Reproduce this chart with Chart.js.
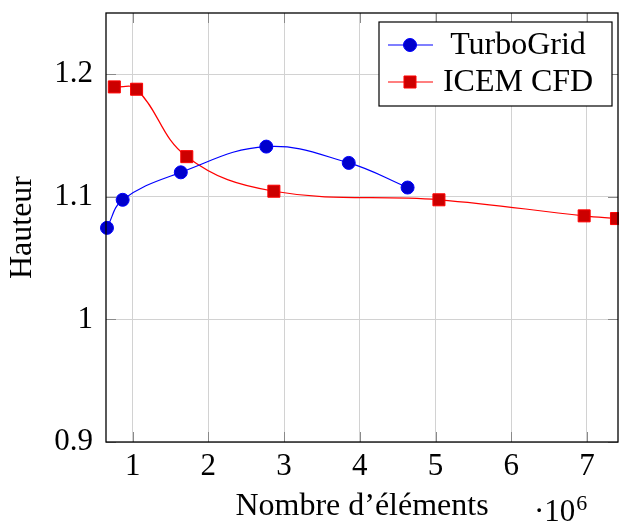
<!DOCTYPE html>
<html>
<head>
<meta charset="utf-8">
<script src="https://cdn.jsdelivr.net/npm/chart.js@4"></script>
<style>
  html, body { margin: 0; padding: 0; background: #fff; }
</style>
</head>
<body>
<canvas id="myChart" width="619" height="526"></canvas>
<script>
// values
const turboX = [661000, 868000, 1636000, 2765000, 3854000, 4631000];
const turboY = [1.0747, 1.0976, 1.1200, 1.1410, 1.1277, 1.1076];
const icemX = [758000, 1052000, 1715000, 2865000, 5045000, 6963000, 7390000];
const icemY = [1.1897, 1.1878, 1.1328, 1.1046, 1.0976, 1.0845, 1.0823];
const xTicks = [1, 2, 3, 4, 5, 6, 7];
const yTicks = [0.9, 1, 1.1, 1.2];

const serif = 'Liberation Serif';

const toPoints = (xs, ys) => xs.map((x, i) => ({ x: x, y: ys[i] }));

// frame, inner tick marks, legend box and the 10^6 factor
const pgfStyle = {
    id: 'pgfStyle',
    afterDatasetsDraw(chart) {
        const ctx = chart.ctx;
        const a = chart.chartArea;
        const xs = chart.scales.x, ys = chart.scales.y;
        ctx.save();

        ctx.strokeStyle = '#8a8a8a';
        ctx.lineWidth = 1;
        ctx.beginPath();
        xTicks.forEach(t => {
            const px = Math.round(xs.getPixelForValue(t * 1e6)) + 0.5;
            ctx.moveTo(px, a.bottom); ctx.lineTo(px, a.bottom - 10);
            ctx.moveTo(px, a.top); ctx.lineTo(px, a.top + 10);
        });
        yTicks.forEach(t => {
            const py = Math.round(ys.getPixelForValue(t)) + 0.5;
            ctx.moveTo(a.left, py); ctx.lineTo(a.left + 10, py);
            ctx.moveTo(a.right, py); ctx.lineTo(a.right - 10, py);
        });
        ctx.stroke();

        ctx.strokeStyle = '#000';
        ctx.lineWidth = 1.3;
        ctx.strokeRect(a.left, a.top, a.right - a.left, a.bottom - a.top);

        // legend
        const bx = a.right - 239, by = a.top + 9, bw = 233, bh = 84;
        ctx.fillStyle = '#fff';
        ctx.fillRect(bx, by, bw, bh);
        ctx.strokeStyle = '#000';
        ctx.lineWidth = 1.2;
        ctx.strokeRect(bx, by, bw, bh);
        ctx.font = '32px "' + serif + '"';
        ctx.textAlign = 'center';
        ctx.textBaseline = 'middle';
        chart.data.datasets.forEach((ds, i) => {
            const cy = by + 23 + i * 37;
            ctx.strokeStyle = ds.borderColor;
            ctx.lineWidth = 1.2;
            ctx.beginPath();
            ctx.moveTo(bx + 9, cy); ctx.lineTo(bx + 54, cy);
            ctx.stroke();
            ctx.fillStyle = ds.pointBackgroundColor;
            ctx.strokeStyle = ds.pointBorderColor;
            ctx.lineWidth = 1;
            ctx.beginPath();
            if (ds.pointStyle === 'rect') {
                const s = ds.pointRadius * Math.SQRT1_2;
                ctx.rect(bx + 31 - s, cy - s, 2 * s, 2 * s);
            } else {
                ctx.arc(bx + 31, cy, ds.pointRadius, 0, Math.PI * 2);
            }
            ctx.fill(); ctx.stroke();
            ctx.fillStyle = '#000';
            ctx.fillText(ds.label, bx + 139, cy + 1);
        });

        // ·10^6
        ctx.textAlign = 'left';
        ctx.textBaseline = 'alphabetic';
        ctx.font = '31px "' + serif + '"';
        ctx.fillText('·10', 534, 521);
        const w = ctx.measureText('·10').width;
        ctx.font = '22px "' + serif + '"';
        ctx.fillText('6', 534 + w + 1, 510);
        ctx.restore();
    }
};

const ctx = document.getElementById('myChart').getContext('2d');
const chart = new Chart(ctx, {
    type: 'scatter',
    data: {
        datasets: [{
            label: 'TurboGrid',
            data: toPoints(turboX, turboY),
            showLine: true,
            borderColor: 'rgb(0,0,255)',
            borderWidth: 1.2,
            tension: 0.4,
            pointStyle: 'circle',
            pointRadius: 6.5,
            pointHoverRadius: 6.5,
            pointBackgroundColor: 'rgb(0,0,204)',
            pointBorderColor: 'rgb(0,0,255)',
            pointBorderWidth: 1,
            clip: false
        }, {
            label: 'ICEM CFD',
            data: toPoints(icemX, icemY),
            showLine: true,
            borderColor: 'rgb(255,0,0)',
            borderWidth: 1.2,
            tension: 0.4,
            pointStyle: 'rect',
            pointRadius: 8.5,
            pointHoverRadius: 8.5,
            pointBackgroundColor: 'rgb(204,0,0)',
            pointBorderColor: 'rgb(255,0,0)',
            pointBorderWidth: 1,
            clip: false
        }]
    },
    options: {
        responsive: false,
        animation: false,
        devicePixelRatio: 1,
        layout: { autoPadding: false, padding: { top: 13, right: 1, bottom: 0, left: 0 } },
        plugins: {
            legend: { display: false },
            tooltip: { enabled: false }
        },
        scales: {
            x: {
                type: 'linear',
                min: 648000,
                max: 7410000,
                afterBuildTicks: axis => { axis.ticks = xTicks.map(v => ({ value: v * 1e6 })); },
                afterFit: axis => {
                    axis.height = 84;
                    axis.paddingLeft = 0;
                    axis.paddingRight = 0;
                },
                grid: { color: '#d2d2d2', lineWidth: 1, drawTicks: false },
                border: { display: false },
                ticks: {
                    padding: 6,
                    color: '#000',
                    font: { family: serif, size: 31 },
                    callback: v => String(v / 1e6),
                    maxRotation: 0
                },
                title: {
                    display: true,
                    text: 'Nombre d’éléments',
                    color: '#000',
                    font: { family: serif, size: 32 },
                    padding: { top: 0, bottom: 0 }
                }
            },
            y: {
                min: 0.9,
                max: 1.25,
                afterBuildTicks: axis => { axis.ticks = yTicks.map(v => ({ value: v })); },
                afterFit: axis => {
                    axis.width = 106;
                    axis.paddingTop = 0;
                    axis.paddingBottom = 0;
                },
                grid: { color: '#d2d2d2', lineWidth: 1, drawTicks: false },
                border: { display: false },
                ticks: {
                    padding: 13,
                    color: '#000',
                    font: { family: serif, size: 31 },
                    callback: v => String(v)
                },
                title: {
                    display: true,
                    text: 'Hauteur',
                    color: '#000',
                    font: { family: serif, size: 32 },
                    padding: { top: 3, bottom: 0 }
                }
            }
        }
    },
    plugins: [pgfStyle]
});
</script>
</body>
</html>
